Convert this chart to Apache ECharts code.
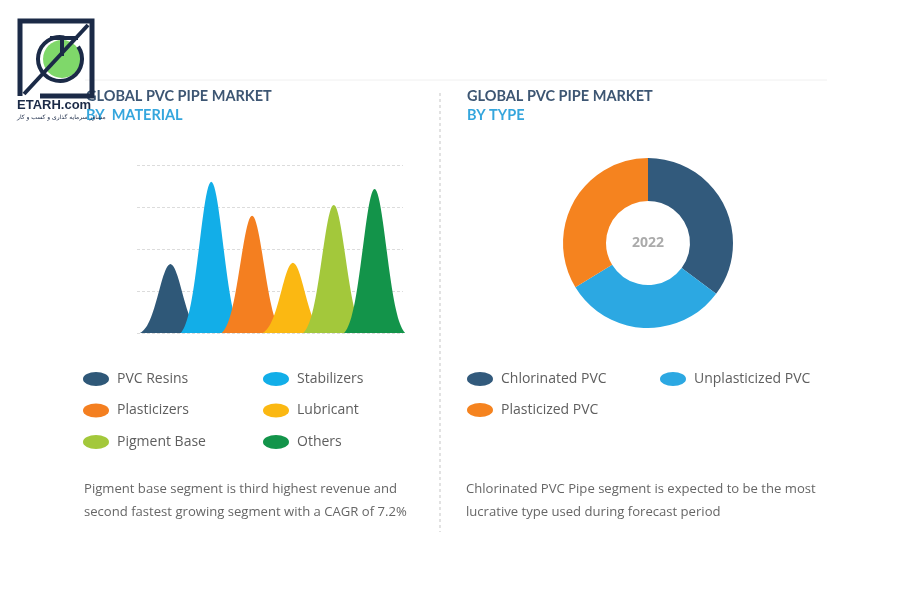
<!DOCTYPE html>
<html><head><meta charset="utf-8">
<script src="https://cdn.jsdelivr.net/npm/echarts@6/dist/echarts.min.js"></script>
<style>html,body{margin:0;padding:0;background:#fff}#c{width:900px;height:600px}</style>
</head><body><div id="c"></div>
<script>
// ---- data ----
const materialCategories = ['PVC Resins','Stabilizers','Plasticizers','Lubricant','Pigment Base','Others'];
const materialValues = [1.64, 3.6, 2.79, 1.67, 3.05, 3.43];
const materialColors = ['#2f5878','#12aee8','#f47f20','#fbb812','#a3c83b','#13944a'];
const materialTicks = [0,1,2,3,4];
const typeNames = ['Chlorinated PVC','Unplasticized PVC','Plasticized PVC'];
const typeValues = [35.2, 31.1, 33.7];
const typeColors = ['#325a7c','#2ca8e2','#f5831f'];

const chart = echarts.init(document.getElementById('c'), null, {renderer:'canvas'});

// bell-shaped symbol outline (shape only, not data)
function bellPath(){
  const K = 2.6, N = 60, g0 = Math.exp(-K*K/2);
  let d = 'path://M0,100';
  for (let i=0;i<=N;i++){
    const t = -K + 2*K*i/N;
    const g = (Math.exp(-t*t/2) - g0)/(1-g0);
    d += ' L' + (i*100/N).toFixed(2) + ',' + (100 - g*100).toFixed(2);
  }
  return d + ' L100,100 Z';
}
const bell = bellPath();
const ellipse = 'path://M13,0 A13,7 0 1,1 13,14 A13,7 0 1,1 13,0 Z';

const barSeries = materialCategories.map((name,i)=>({
  name: name,
  type: 'pictorialBar',
  xAxisIndex: 1, yAxisIndex: 1,
  barGap: '-100%',
  barCategoryGap: '0%',
  symbol: bell,
  symbolSize: [61,'100%'],
  symbolPosition: 'start',
  itemStyle: {color: materialColors[i]},
  emphasis: {disabled: true},
  silent: true,
  z: 3 + i,
  data: materialCategories.map((c,j)=> j===i ? materialValues[i] : '-')
}));

const legendText = {fontFamily:'Open Sans', fontSize:14, color:'#5e5e5e', padding:[0,0,0,3], lineHeight:16};
function mkLegend(data, left, top, gap){
  return {data:data, left:left, top:top, orient:'vertical', icon:ellipse, itemWidth:26, itemHeight:14,
    itemGap:gap, selectedMode:false, textStyle:legendText, padding:0};
}

const option = {
  animation:false,
  backgroundColor:'#fff',
  grid:[
    {left:137, right:497, top:165, bottom:267},
    {left:150, right:505, top:165, bottom:267}
  ],
  xAxis:[
    {type:'category', gridIndex:0, data:materialCategories, show:false},
    {type:'category', gridIndex:1, data:materialCategories, show:false}
  ],
  yAxis:[
    {type:'value', gridIndex:0, min:materialTicks[0], max:materialTicks[materialTicks.length-1], interval:1,
     axisLabel:{show:false}, axisLine:{show:false}, axisTick:{show:false},
     splitLine:{lineStyle:{color:'#dcdcdc', type:[3,2], width:1}}},
    {type:'value', gridIndex:1, min:0, max:4, show:false, splitLine:{show:false}}
  ],
  legend:[
    mkLegend(['PVC Resins','Plasticizers','Pigment Base'], 83, 371, 15.5),
    mkLegend(['Stabilizers','Lubricant','Others'], 263, 371, 15.5),
    mkLegend(['Chlorinated PVC','Plasticized PVC'], 467, 371, 15),
    mkLegend(['Unplasticized PVC'], 660, 371, 15)
  ],
  series: barSeries.concat([{
    type:'pie', center:[648,243], radius:[42,85], startAngle:90, clockwise:true,
    label:{show:false}, labelLine:{show:false}, silent:true, emphasis:{disabled:true},
    data: typeNames.map((n,i)=>({name:n, value:typeValues[i], itemStyle:{color:typeColors[i]}}))
  }]),
  graphic:[
    {type:'line', shape:{x1:85,y1:80,x2:827,y2:80}, style:{stroke:'#f0f0f0', lineWidth:1}},
    {type:'line', shape:{x1:440,y1:93,x2:440,y2:532}, style:{stroke:'#cfcfcf', lineWidth:1.2, lineDash:[3,3]}},
    // titles
    {type:'text', left:86, top:89, style:{text:'GLOBAL PVC PIPE MARKET', font:'bold 14.5px Lato', fill:'#3d5673'}},
    {type:'text', left:86, top:108, style:{text:'BY  MATERIAL', font:'bold 14.5px Lato', fill:'#35a6dd'}},
    {type:'text', left:467, top:89, style:{text:'GLOBAL PVC PIPE MARKET', font:'bold 14.5px Lato', fill:'#3d5673'}},
    {type:'text', left:467, top:108, style:{text:'BY TYPE', font:'bold 14.5px Lato', fill:'#35a6dd'}},
    // donut center
    {type:'text', x:648, y:243, style:{text:'2022', font:'bold 14px "Open Sans"', fill:'#ababab', align:'center', verticalAlign:'middle'}},
    // paragraphs
    {type:'text', left:84, top:478, style:{text:'Pigment base segment is third highest revenue and\nsecond fastest growing segment with a CAGR of 7.2%', font:'13.1px "Open Sans"', fill:'#666', lineHeight:23}},
    {type:'text', left:466, top:478, style:{text:'Chlorinated PVC Pipe segment is expected to be the most\nlucrative type used during forecast period', font:'13.1px "Open Sans"', fill:'#666', lineHeight:23}},
    // logo
    {type:'circle', shape:{cx:62, cy:59, r:19}, style:{fill:'#7fd86a'}},
    {type:'arc', shape:{cx:60, cy:59, r:22, startAngle:-0.6, endAngle:4.9}, style:{stroke:'#1b2a47', lineWidth:4, fill:null}},
    {type:'polyline', shape:{points:[[20,96],[20,21],[92,21],[92,96],[40,96]]}, style:{stroke:'#1b2a47', lineWidth:5, fill:null}},
    {type:'line', shape:{x1:88,y1:25,x2:24,y2:94}, style:{stroke:'#1b2a47', lineWidth:4}},
    {type:'line', shape:{x1:50,y1:38,x2:78,y2:38}, style:{stroke:'#1b2a47', lineWidth:4}},
    {type:'line', shape:{x1:62,y1:38,x2:62,y2:56}, style:{stroke:'#1b2a47', lineWidth:4}},
    {type:'text', left:17, top:99, style:{text:'ETARH.com', font:'bold 13px "Liberation Sans"', fill:'#1b2a47'}},
    {type:'text', left:17, top:114, style:{text:'مشاور سرمایه گذاری و کسب و کار', font:'6px "DejaVu Sans"', fill:'#1b2a47'}}
  ]
};
chart.setOption(option);
</script>
</body></html>
